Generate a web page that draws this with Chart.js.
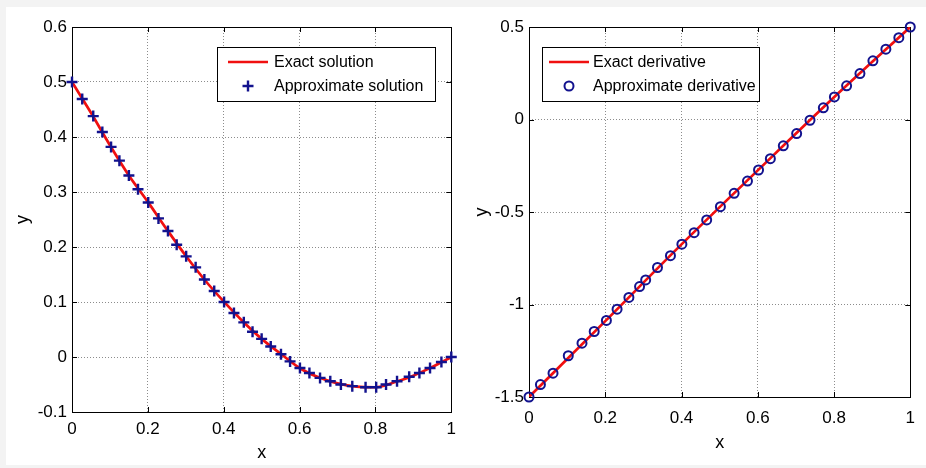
<!DOCTYPE html>
<html lang="en">
<head>
    <meta charset="UTF-8">
    <title>Solution and derivative</title>
    <style>
        body { margin: 0; background: #f3f3f3; }
        #page { position: absolute; left: 6px; top: 7px; width: 920px; height: 458px; background: #fff; }
        #left-chart { position: absolute; left: 0; top: 0; }
        #right-chart { position: absolute; left: 463px; top: 0; }
    </style>
</head>

<body>
    <div id="page"></div>
    <canvas id="left-chart" width="463" height="468"></canvas>
    <canvas id="right-chart" width="463" height="468"></canvas>

    <script src="https://cdn.jsdelivr.net/npm/chart.js"></script>
    <script>
    "use strict"

    // left plot: solution
    const solutionX = [0, 0.027, 0.056, 0.080, 0.103, 0.125, 0.150, 0.174, 0.201, 0.228, 0.253, 0.276, 0.301, 0.326, 0.349, 0.375, 0.401, 0.427, 0.453, 0.476, 0.500, 0.524, 0.551, 0.575, 0.601, 0.626, 0.654, 0.681, 0.709, 0.739, 0.774, 0.802, 0.828, 0.857, 0.889, 0.916, 0.944, 0.974, 1.0]
    const solutionY = [0.5, 0.469, 0.438, 0.409, 0.382, 0.357, 0.330, 0.305, 0.281, 0.252, 0.229, 0.204, 0.183, 0.163, 0.141, 0.120, 0.100, 0.080, 0.063, 0.046, 0.033, 0.019, 0.005, -0.008, -0.020, -0.029, -0.038, -0.044, -0.050, -0.053, -0.055, -0.055, -0.050, -0.044, -0.036, -0.029, -0.020, -0.009, 0]
    const exactX = [0, 0.05, 0.1, 0.15, 0.2, 0.25, 0.3, 0.35, 0.4, 0.45, 0.5, 0.55, 0.6, 0.65, 0.7, 0.75, 0.8, 0.85, 0.9, 0.95, 1]
    const exactY = [0.5, 0.444, 0.385, 0.330, 0.282, 0.232, 0.184, 0.140, 0.101, 0.065, 0.033, 0.006, -0.020, -0.037, -0.048, -0.054, -0.055, -0.046, -0.034, -0.018, 0]

    // right plot: derivative
    const derivX = [0, 0.030, 0.063, 0.103, 0.139, 0.171, 0.203, 0.231, 0.262, 0.290, 0.306, 0.337, 0.371, 0.401, 0.433, 0.466, 0.502, 0.538, 0.573, 0.602, 0.633, 0.667, 0.702, 0.737, 0.772, 0.801, 0.833, 0.868, 0.902, 0.936, 0.970, 1.0]
    const derivY = [-1.5, -1.433, -1.371, -1.277, -1.209, -1.146, -1.086, -1.025, -0.962, -0.903, -0.867, -0.800, -0.736, -0.674, -0.612, -0.543, -0.471, -0.399, -0.333, -0.273, -0.212, -0.142, -0.076, -0.004, 0.063, 0.122, 0.182, 0.248, 0.317, 0.380, 0.442, 0.5]
    const exactDerivX = [0, 0.2, 0.4, 0.6, 0.8, 1]
    const exactDerivY = [-1.5, -1.09, -0.675, -0.275, 0.12, 0.5]

    const xTicks = { min: 0, max: 1, step: 0.2 }
    const leftYTicks = { min: -0.1, max: 0.6, step: 0.1 }
    const rightYTicks = { min: -1.5, max: 0.5, step: 0.5 }

    const RED = '#f01010'
    const BLUE = '#12128e'

    Chart.defaults.font.family = '"Liberation Sans", Arial, sans-serif'
    Chart.defaults.color = '#000'

    function toPoints(xs, ys) {
        return xs.map((x, i) => ({ x: x, y: ys[i] }))
    }

    function tickLabel(v) {
        return String(+v.toFixed(2))
    }

    // box, inward tick marks and boxed legend like the matlab figure
    const matlabBox = {
        id: 'matlabBox',
        beforeDatasetsDraw(chart) {
            const { ctx, chartArea: a, scales } = chart
            ctx.save()
            ctx.strokeStyle = '#000'
            ctx.lineWidth = 1
            ctx.strokeRect(Math.round(a.left) + 0.5, Math.round(a.top) + 0.5, Math.round(a.right - a.left), Math.round(a.bottom - a.top))
            ctx.beginPath()
            scales.x.ticks.forEach(t => {
                const px = Math.round(scales.x.getPixelForValue(t.value)) + 0.5
                ctx.moveTo(px, a.bottom); ctx.lineTo(px, a.bottom - 5)
                ctx.moveTo(px, a.top); ctx.lineTo(px, a.top + 5)
            })
            scales.y.ticks.forEach(t => {
                const py = Math.round(scales.y.getPixelForValue(t.value)) + 0.5
                ctx.moveTo(a.left, py); ctx.lineTo(a.left + 5, py)
                ctx.moveTo(a.right, py); ctx.lineTo(a.right - 5, py)
            })
            ctx.stroke()
            ctx.restore()
        },
        afterDraw(chart) {
            const o = chart.options.plugins.matlabBox
            const ctx = chart.ctx
            ctx.save()
            ctx.fillStyle = '#fff'
            ctx.fillRect(o.left, o.top, o.width, o.height)
            ctx.strokeStyle = '#000'
            ctx.lineWidth = 1
            ctx.strokeRect(o.left + 0.5, o.top + 0.5, o.width, o.height)
            ctx.font = '16px "Liberation Sans", Arial, sans-serif'
            ctx.textBaseline = 'middle'
            // line dataset first, then markers
            const items = [chart.data.datasets[1], chart.data.datasets[0]]
            items.forEach((ds, i) => {
                const cy = o.top + 15 + i * 24
                const sx = o.left + o.lineX
                if (ds.showLine) {
                    ctx.strokeStyle = ds.borderColor
                    ctx.lineWidth = ds.borderWidth
                    ctx.beginPath(); ctx.moveTo(sx, cy); ctx.lineTo(sx + 40, cy); ctx.stroke()
                } else {
                    const cx = sx + 20
                    ctx.strokeStyle = ds.pointBorderColor
                    ctx.lineWidth = ds.pointBorderWidth
                    ctx.beginPath()
                    if (ds.pointStyle === 'cross') {
                        ctx.moveTo(cx - ds.pointRadius, cy); ctx.lineTo(cx + ds.pointRadius, cy)
                        ctx.moveTo(cx, cy - ds.pointRadius); ctx.lineTo(cx, cy + ds.pointRadius)
                    } else {
                        ctx.arc(cx, cy, ds.pointRadius, 0, Math.PI * 2)
                    }
                    ctx.stroke()
                }
                ctx.fillStyle = '#000'
                ctx.fillText(ds.label, o.left + o.textX, cy + 1)
            })
            ctx.restore()
        }
    }

    function makeChart(canvasId, cfg) {
        return new Chart(document.getElementById(canvasId), {
            type: 'scatter',
            data: {
                datasets: [
                    {
                        label: cfg.markerLabel,
                        data: toPoints(cfg.markX, cfg.markY),
                        showLine: false,
                        pointStyle: cfg.pointStyle,
                        pointRadius: cfg.pointRadius,
                        pointHoverRadius: cfg.pointRadius,
                        pointBorderWidth: cfg.markWidth,
                        pointBorderColor: BLUE,
                        pointBackgroundColor: 'rgba(0,0,0,0)',
                        clip: false,
                        order: 1
                    },
                    {
                        label: cfg.lineLabel,
                        data: toPoints(cfg.lineX, cfg.lineY),
                        showLine: true,
                        borderColor: RED,
                        borderWidth: 2.7,
                        pointRadius: 0,
                        cubicInterpolationMode: 'monotone',
                        order: 2
                    }
                ]
            },
            options: {
                responsive: false,
                animation: false,
                events: [],
                layout: { padding: { left: 0, top: 27, right: cfg.padRight, bottom: 0 } },
                plugins: {
                    legend: { display: false },
                    tooltip: { enabled: false },
                    matlabBox: cfg.legendBox
                },
                scales: {
                    x: {
                        type: 'linear',
                        min: xTicks.min,
                        max: xTicks.max,
                        ticks: { stepSize: xTicks.step, padding: cfg.xTickPad, font: { size: 17 }, callback: tickLabel },
                        grid: { color: '#8c8c8c', drawTicks: false },
                        border: { display: false, dash: [1, 2] },
                        title: { display: true, text: 'x', font: { size: 18 }, padding: { top: 0, bottom: cfg.xTitlePad } },
                        afterFit: s => { s.height = cfg.xHeight }
                    },
                    y: {
                        type: 'linear',
                        min: cfg.yTicks.min,
                        max: cfg.yTicks.max,
                        ticks: { stepSize: cfg.yTicks.step, padding: 5, font: { size: 17 }, callback: tickLabel },
                        grid: { color: '#8c8c8c', drawTicks: false },
                        border: { display: false, dash: [1, 2] },
                        title: { display: true, text: 'y', font: { size: 18 }, padding: { top: cfg.yTitlePad, bottom: 0 } },
                        afterFit: s => { s.width = cfg.yWidth }
                    }
                }
            },
            plugins: [matlabBox]
        })
    }

    makeChart('left-chart', {
        markerLabel: 'Approximate solution',
        lineLabel: 'Exact solution',
        markX: solutionX, markY: solutionY,
        lineX: exactX, lineY: exactY,
        pointStyle: 'cross', pointRadius: 5.5, markWidth: 2.4,
        yTicks: leftYTicks,
        padRight: 8, xHeight: 56, yWidth: 72,
        xTickPad: 7, xTitlePad: 4, yTitlePad: 12,
        legendBox: { left: 217, top: 47, width: 218, height: 54, lineX: 11, textX: 57 }
    })

    makeChart('right-chart', {
        markerLabel: 'Approximate derivative',
        lineLabel: 'Exact derivative',
        markX: derivX, markY: derivY,
        lineX: exactDerivX, lineY: exactDerivY,
        pointStyle: 'circle', pointRadius: 4.5, markWidth: 2,
        yTicks: rightYTicks,
        padRight: 15, xHeight: 71, yWidth: 66,
        xTickPad: 11, xTitlePad: 14, yTitlePad: 8,
        legendBox: { left: 79, top: 47, width: 217, height: 54, lineX: 7, textX: 51 }
    })
    </script>
</body>
</html>
